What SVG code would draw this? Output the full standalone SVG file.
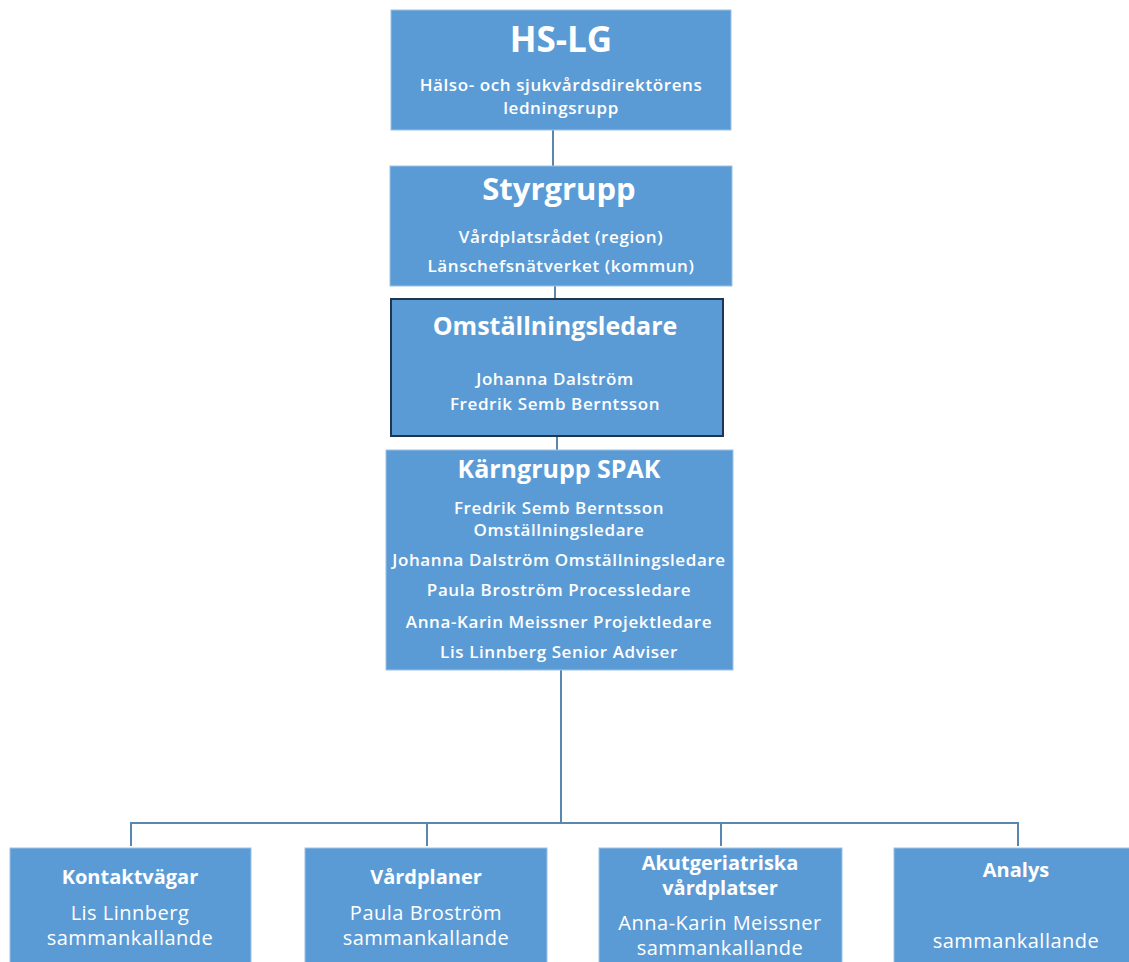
<svg xmlns="http://www.w3.org/2000/svg" width="1129" height="962" viewBox="0 0 1129 962">
<style>
.box{fill:#5b9bd5;stroke:#9cc2e6;stroke-width:1}
.dark{fill:#5b9bd5;stroke:#1f3550;stroke-width:2}
text{fill:#ffffff;font-family:"Open Sans","Noto Sans",sans-serif;text-anchor:middle}
.t1{font-size:35px;font-weight:700}
.t1b{font-size:31px;font-weight:700}
.t2{font-size:25px;font-weight:700}
.s{font-size:17px;font-weight:600;letter-spacing:0.6px}
.bt{font-size:20px;font-weight:700}
.bs{font-size:20px;font-weight:400;letter-spacing:0.5px}
.con{stroke:#5b86b0;stroke-width:2;fill:none}
</style>
<rect width="1129" height="962" fill="#ffffff"/>
<g id="connectors">
<line class="con" x1="553" y1="130" x2="553" y2="166" stroke="#8db4db"/>
<line class="con" x1="555" y1="286" x2="555" y2="298"/>
<line class="con" x1="557" y1="436" x2="557" y2="450"/>
<path class="con" d="M561 670 V823"/>
<path class="con" d="M131 846 V823 H1018 V846" stroke="#7fa3c6"/>
<line class="con" x1="427" y1="823" x2="427" y2="846"/>
<line class="con" x1="721" y1="823" x2="721" y2="846"/>
</g>
<g id="hslg">
<rect class="box" x="391" y="10" width="340" height="120"/>
<text class="t1" x="561" y="52">HS-LG</text>
<text class="s" x="561" y="91">Hälso- och sjukvårdsdirektörens</text>
<text class="s" x="561" y="114">ledningsrupp</text>
</g>
<g id="styrgrupp">
<rect class="box" x="390" y="166" width="342" height="120"/>
<text class="t1b" x="559" y="200">Styrgrupp</text>
<text class="s" x="561" y="243">Vårdplatsrådet (region)</text>
<text class="s" x="561" y="272">Länschefsnätverket (kommun)</text>
</g>
<g id="omstallningsledare">
<rect class="dark" x="391" y="299" width="332" height="137"/>
<text class="t2" x="555" y="335">Omställningsledare</text>
<text class="s" x="555" y="385">Johanna Dalström</text>
<text class="s" x="555" y="410">Fredrik Semb Berntsson</text>
</g>
<g id="karngrupp">
<rect class="box" x="386" y="450" width="347" height="220"/>
<text class="t2" x="559" y="478">Kärngrupp SPAK</text>
<text class="s" x="559" y="514">Fredrik Semb Berntsson</text>
<text class="s" x="559" y="536">Omställningsledare</text>
<text class="s" x="559" y="566">Johanna Dalström Omställningsledare</text>
<text class="s" x="559" y="596">Paula Broström Processledare</text>
<text class="s" x="559" y="628">Anna-Karin Meissner Projektledare</text>
<text class="s" x="559" y="658">Lis Linnberg Senior Adviser</text>
</g>
<g id="kontaktvagar">
<rect class="box" x="10" y="848" width="241" height="120"/>
<text class="bt" x="130" y="884">Kontaktvägar</text>
<text class="bs" x="130" y="920">Lis Linnberg</text>
<text class="bs" x="130" y="945">sammankallande</text>
</g>
<g id="vardplaner">
<rect class="box" x="305" y="848" width="242" height="120"/>
<text class="bt" x="426" y="884">Vårdplaner</text>
<text class="bs" x="426" y="920">Paula Broström</text>
<text class="bs" x="426" y="945">sammankallande</text>
</g>
<g id="akutgeriatriska">
<rect class="box" x="599" y="848" width="243" height="120"/>
<text class="bt" x="720" y="870">Akutgeriatriska</text>
<text class="bt" x="720" y="895">vårdplatser</text>
<text class="bs" x="720" y="930">Anna-Karin Meissner</text>
<text class="bs" x="720" y="955">sammankallande</text>
</g>
<g id="analys">
<rect class="box" x="894" y="848" width="244" height="120"/>
<text class="bt" x="1016" y="877">Analys</text>
<text class="bs" x="1016" y="948">sammankallande</text>
</g>
</svg>
